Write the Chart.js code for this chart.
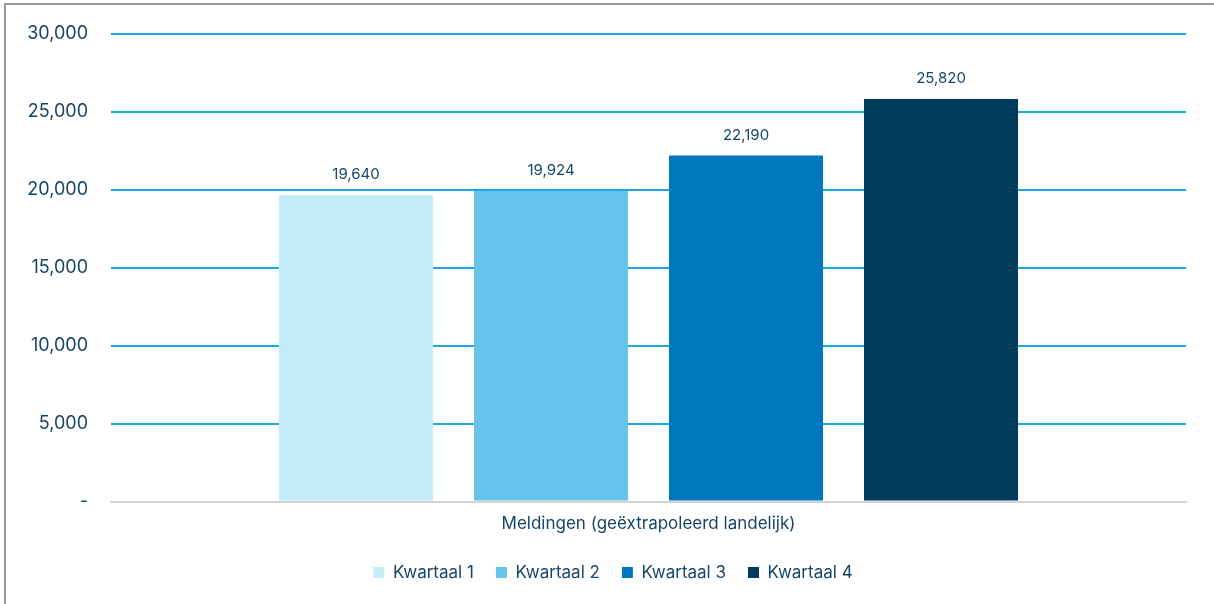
<!DOCTYPE html>
<html>
<head>
<meta charset="utf-8">
<script src="https://cdn.jsdelivr.net/npm/chart.js@4.4.1/dist/chart.umd.min.js"></script>
<style>
  html, body { margin:0; padding:0; background:#fff; }
  .wrap { position:relative; width:1214px; height:604px; }
  .frame { position:absolute; left:4px; top:3px; right:0; bottom:0;
           border-left:2px solid #9a9a9a; border-top:2px solid #9a9a9a; pointer-events:none; }
</style>
</head>
<body>
<div class="wrap">
  <canvas id="chart" width="1214" height="604"></canvas>
  <div class="frame"></div>
</div>
<script>
// Data
const categories = ['Meldingen (geëxtrapoleerd landelijk)'];
const seriesNames = ['Kwartaal 1', 'Kwartaal 2', 'Kwartaal 3', 'Kwartaal 4'];
const q1 = [19640];
const q2 = [19924];
const q3 = [22190];
const q4 = [25820];
const colors = ['#c5ecf9', '#67c3ec', '#0078bd', '#003c5e'];
const textColor = '#17456a';
const fontFam = '"Inter", "Open Sans", sans-serif';

// value labels above bars
const valueLabels = {
  id: 'valueLabels',
  afterDatasetsDraw(chart){
    const c = chart.ctx;
    c.save();
    c.font = '15px ' + fontFam;
    c.fillStyle = textColor;
    c.textAlign = 'center';
    c.textBaseline = 'bottom';
    chart.data.datasets.forEach((ds, i) => {
      chart.getDatasetMeta(i).data.forEach((bar, j) => {
        c.fillText(ds.data[j].toLocaleString('en-US'), bar.x, bar.y - 13);
      });
    });
    c.restore();
  }
};

// legend sits a bit right of centre (and closer to the axis) in the original
const legendShift = {
  id: 'legendShift',
  afterLayout(chart){
    const lg = chart.legend;
    lg.left += 20; lg.right += 20;
    lg.top -= 4; lg.bottom -= 4;
  }
};

const datasets = [q1, q2, q3, q4].map((d, i) => ({
  label: seriesNames[i],
  data: d,
  backgroundColor: colors[i],
  borderWidth: 0,
  categoryPercentage: 0.7256,
  barPercentage: 0.79
}));

new Chart(document.getElementById('chart'), {
  type: 'bar',
  data: { labels: categories, datasets },
  options: {
    responsive: false,
    animation: false,
    layout: { padding: { top: 20, right: 28, left: 0, bottom: 9 } },
    plugins: {
      legend: {
        position: 'bottom',
        labels: {
          boxWidth: 11, boxHeight: 11, padding: 22,
          color: textColor,
          font: { size: 17, family: fontFam }
        }
      },
      tooltip: { enabled: false }
    },
    scales: {
      x: {
        grid: { display: false, drawTicks: false },
        border: { color: '#d4d4d4', width: 2 },
        ticks: { color: textColor, padding: 12, font: { size: 17, family: fontFam } }
      },
      y: {
        min: 0, max: 30000,
        afterFit(s){ s.width = 111; },
        grid: { color: '#1aa7e2', lineWidth: 2, drawTicks: false },
        border: { display: false },
        ticks: {
          stepSize: 5000, padding: 23, color: textColor,
          font: { size: 18, family: fontFam },
          callback: v => v === 0 ? '-' : v.toLocaleString('en-US')
        }
      }
    }
  },
  plugins: [valueLabels, legendShift]
});
</script>
</body>
</html>
